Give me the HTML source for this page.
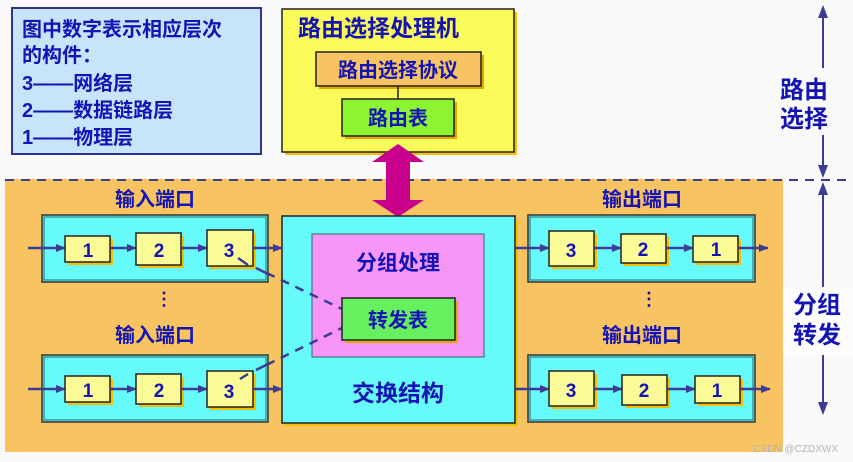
<!DOCTYPE html>
<html><head><meta charset="utf-8"><style>
html,body{margin:0;padding:0;background:#f9f9f9;}
svg{display:block;}
text{font-family:"Liberation Sans","Noto Sans CJK SC",sans-serif;font-weight:bold;fill:#1414b4;}
</style></head><body>
<svg width="853" height="462" viewBox="0 0 853 462" xmlns="http://www.w3.org/2000/svg">
<defs>
<marker id="ah" markerWidth="10" markerHeight="8" refX="9" refY="4" orient="auto" markerUnits="userSpaceOnUse">
<path d="M0,0 L10,4 L0,8 Z" fill="#3c3c96"/></marker>
</defs>
<rect x="0" y="0" width="853" height="462" fill="#f9f9f9"/>
<rect x="5" y="179" width="778" height="273" fill="#f8c462"/>
<line x1="5" y1="180" x2="853" y2="180" stroke="#3c3c96" stroke-width="2" stroke-dasharray="9,7"/>

<rect x="12" y="8" width="249" height="146" fill="#c6e4fa" stroke="#323296" stroke-width="2"/>
<text x="22" y="36" font-size="20">图中数字表示相应层次</text>
<text x="22" y="62" font-size="20">的构件：</text>
<text x="22" y="90" font-size="20">3——网络层</text>
<text x="22" y="117" font-size="20">2——数据链路层</text>
<text x="22" y="144" font-size="20">1——物理层</text>

<rect x="285" y="12" width="232" height="143" fill="#f4c000"/>
<rect x="282" y="9" width="232" height="143" fill="#fafa5a" stroke="#222" stroke-width="1.5"/>
<text x="298" y="36" font-size="23">路由选择处理机</text>
<rect x="319" y="55" width="165" height="34" fill="#e0a800"/>
<rect x="316" y="52" width="165" height="34" fill="#f8c462" stroke="#222" stroke-width="1.5"/>
<text x="398" y="77" font-size="20" text-anchor="middle">路由选择协议</text>
<line x1="398" y1="86" x2="398" y2="99" stroke="#222" stroke-width="1.5"/>
<rect x="345" y="102" width="112" height="37" fill="#e0a800"/>
<rect x="342" y="99" width="112" height="37" fill="#8cf530" stroke="#222" stroke-width="1.5"/>
<text x="398" y="125" font-size="20" text-anchor="middle">路由表</text>

<path d="M398,144 L424,162 L410,162 L410,200 L424,200 L398,217 L372,200 L386,200 L386,162 L372,162 Z" fill="#c8008c"/>

<line x1="823" y1="18" x2="823" y2="68" stroke="#3c3c96" stroke-width="2"/>
<path d="M823,5 L818,18 L828,18 Z" fill="#3c3c96"/>
<line x1="823" y1="135" x2="823" y2="166" stroke="#3c3c96" stroke-width="2"/>
<path d="M823,178 L818,165 L828,165 Z" fill="#3c3c96"/>
<text x="804" y="98" font-size="24" text-anchor="middle">路由</text>
<text x="804" y="127" font-size="24" text-anchor="middle">选择</text>
<line x1="823" y1="195" x2="823" y2="288" stroke="#3c3c96" stroke-width="2"/>
<path d="M823,182 L818,195 L828,195 Z" fill="#3c3c96"/>
<rect x="783" y="287" width="70" height="68" fill="#fcfcfc"/>
<text x="817" y="313" font-size="24" text-anchor="middle">分组</text>
<text x="817" y="343" font-size="24" text-anchor="middle">转发</text>
<line x1="823" y1="355" x2="823" y2="402" stroke="#3c3c96" stroke-width="2"/>
<path d="M823,415 L818,402 L828,402 Z" fill="#3c3c96"/>

<rect x="285" y="219" width="233" height="207" fill="#f4c000"/>
<rect x="282" y="216" width="233" height="207" fill="#66fafa" stroke="#222" stroke-width="1.5"/>
<rect x="312" y="234" width="172" height="123" fill="#f896f8" stroke="#2a6a6a" stroke-width="1"/>
<text x="398" y="270" font-size="21" text-anchor="middle">分组处理</text>

<line x1="252" y1="266" x2="342" y2="309" stroke="#3c3c96" stroke-width="2.5" stroke-dasharray="9,7"/>
<line x1="252" y1="372" x2="342" y2="328" stroke="#3c3c96" stroke-width="2.5" stroke-dasharray="9,7"/>

<rect x="345" y="301" width="113" height="42" fill="#e0a800"/>
<rect x="342" y="298" width="113" height="42" fill="#66f060" stroke="#222" stroke-width="1.5"/>
<text x="398" y="327" font-size="20" text-anchor="middle">转发表</text>
<text x="398" y="401" font-size="23" text-anchor="middle">交换结构</text>

<g>
<text x="155" y="206" font-size="20" text-anchor="middle">输入端口</text>
<rect x="42" y="215" width="226" height="67" fill="#66fafa" stroke="#333" stroke-width="1.5"/>
<rect x="44" y="217" width="222" height="63" fill="none" stroke="#2a6a6a" stroke-width="1"/>
<line x1="28" y1="248" x2="65" y2="248" stroke="#3c3c96" stroke-width="2.5" marker-end="url(#ah)"/>
<rect x="68" y="239" width="45" height="26" fill="#f4c000"/>
<rect x="65" y="236" width="45" height="26" fill="#fafa96" stroke="#222" stroke-width="1.5"/>
<text x="88" y="257" font-size="19" text-anchor="middle">1</text>
<line x1="110" y1="248" x2="136" y2="248" stroke="#3c3c96" stroke-width="2.5" marker-end="url(#ah)"/>
<rect x="139" y="236" width="45" height="32" fill="#f4c000"/>
<rect x="136" y="233" width="45" height="32" fill="#fafa96" stroke="#222" stroke-width="1.5"/>
<text x="159" y="257" font-size="19" text-anchor="middle">2</text>
<line x1="181" y1="248" x2="207" y2="248" stroke="#3c3c96" stroke-width="2.5" marker-end="url(#ah)"/>
<rect x="210" y="233" width="46" height="36" fill="#f4c000"/>
<rect x="207" y="230" width="46" height="36" fill="#fafa96" stroke="#222" stroke-width="1.5"/>
<text x="229" y="257" font-size="19" text-anchor="middle">3</text>
<line x1="253" y1="248" x2="282" y2="248" stroke="#3c3c96" stroke-width="2.5" marker-end="url(#ah)"/>
<path d="M238,258 L248,265" stroke="#3c3c96" stroke-width="2.5"/>
<line x1="256" y1="268" x2="268" y2="274" stroke="#3c3c96" stroke-width="2.5"/>
</g>
<text x="164" y="305" font-size="18" text-anchor="middle">⋮</text>
<g transform="translate(0,141)">
<text x="155" y="201" font-size="20" text-anchor="middle">输入端口</text>
<rect x="42" y="214" width="226" height="67" fill="#66fafa" stroke="#333" stroke-width="1.5"/>
<rect x="44" y="216" width="222" height="63" fill="none" stroke="#2a6a6a" stroke-width="1"/>
<line x1="28" y1="248" x2="65" y2="248" stroke="#3c3c96" stroke-width="2.5" marker-end="url(#ah)"/>
<rect x="68" y="238" width="45" height="26" fill="#f4c000"/>
<rect x="65" y="235" width="45" height="26" fill="#fafa96" stroke="#222" stroke-width="1.5"/>
<text x="88" y="256" font-size="19" text-anchor="middle">1</text>
<line x1="110" y1="248" x2="136" y2="248" stroke="#3c3c96" stroke-width="2.5" marker-end="url(#ah)"/>
<rect x="139" y="236" width="45" height="30" fill="#f4c000"/>
<rect x="136" y="233" width="45" height="30" fill="#fafa96" stroke="#222" stroke-width="1.5"/>
<text x="159" y="256" font-size="19" text-anchor="middle">2</text>
<line x1="181" y1="248" x2="207" y2="248" stroke="#3c3c96" stroke-width="2.5" marker-end="url(#ah)"/>
<rect x="210" y="233" width="46" height="36" fill="#f4c000"/>
<rect x="207" y="230" width="46" height="36" fill="#fafa96" stroke="#222" stroke-width="1.5"/>
<text x="229" y="257" font-size="19" text-anchor="middle">3</text>
<line x1="253" y1="248" x2="282" y2="248" stroke="#3c3c96" stroke-width="2.5" marker-end="url(#ah)"/>
<path d="M240,238 L248,233" stroke="#3c3c96" stroke-width="2.5"/>
<line x1="256" y1="229" x2="268" y2="223" stroke="#3c3c96" stroke-width="2.5"/>
</g>

<g>
<text x="642" y="206" font-size="20" text-anchor="middle">输出端口</text>
<rect x="528" y="215" width="227" height="67" fill="#66fafa" stroke="#333" stroke-width="1.5"/>
<rect x="530" y="217" width="223" height="63" fill="none" stroke="#2a6a6a" stroke-width="1"/>
<line x1="515" y1="248" x2="549" y2="248" stroke="#3c3c96" stroke-width="2.5" marker-end="url(#ah)"/>
<rect x="552" y="234" width="45" height="35" fill="#f4c000"/>
<rect x="549" y="231" width="45" height="35" fill="#fafa96" stroke="#222" stroke-width="1.5"/>
<text x="571" y="257" font-size="19" text-anchor="middle">3</text>
<line x1="594" y1="248" x2="621" y2="248" stroke="#3c3c96" stroke-width="2.5" marker-end="url(#ah)"/>
<rect x="624" y="237" width="45" height="29" fill="#f4c000"/>
<rect x="621" y="234" width="45" height="29" fill="#fafa96" stroke="#222" stroke-width="1.5"/>
<text x="643" y="256" font-size="19" text-anchor="middle">2</text>
<line x1="666" y1="248" x2="693" y2="248" stroke="#3c3c96" stroke-width="2.5" marker-end="url(#ah)"/>
<rect x="696" y="239" width="45" height="26" fill="#f4c000"/>
<rect x="693" y="236" width="45" height="26" fill="#fafa96" stroke="#222" stroke-width="1.5"/>
<text x="716" y="256" font-size="19" text-anchor="middle">1</text>
<line x1="738" y1="248" x2="768" y2="248" stroke="#3c3c96" stroke-width="2.5" marker-end="url(#ah)"/>
</g>
<text x="649" y="305" font-size="18" text-anchor="middle">⋮</text>
<g transform="translate(0,141)">
<text x="642" y="201" font-size="20" text-anchor="middle">输出端口</text>
<rect x="528" y="214" width="227" height="67" fill="#66fafa" stroke="#333" stroke-width="1.5"/>
<rect x="530" y="216" width="223" height="63" fill="none" stroke="#2a6a6a" stroke-width="1"/>
<line x1="515" y1="248" x2="549" y2="248" stroke="#3c3c96" stroke-width="2.5" marker-end="url(#ah)"/>
<rect x="552" y="233" width="45" height="35" fill="#f4c000"/>
<rect x="549" y="230" width="45" height="35" fill="#fafa96" stroke="#222" stroke-width="1.5"/>
<text x="571" y="256" font-size="19" text-anchor="middle">3</text>
<line x1="594" y1="248" x2="622" y2="248" stroke="#3c3c96" stroke-width="2.5" marker-end="url(#ah)"/>
<rect x="625" y="237" width="45" height="30" fill="#f4c000"/>
<rect x="622" y="234" width="45" height="30" fill="#fafa96" stroke="#222" stroke-width="1.5"/>
<text x="644" y="256" font-size="19" text-anchor="middle">2</text>
<line x1="667" y1="248" x2="695" y2="248" stroke="#3c3c96" stroke-width="2.5" marker-end="url(#ah)"/>
<rect x="698" y="238" width="45" height="27" fill="#f4c000"/>
<rect x="695" y="235" width="45" height="27" fill="#fafa96" stroke="#222" stroke-width="1.5"/>
<text x="717" y="256" font-size="19" text-anchor="middle">1</text>
<line x1="740" y1="248" x2="770" y2="248" stroke="#3c3c96" stroke-width="2.5" marker-end="url(#ah)"/>
</g>

<text x="838" y="452" font-size="10" text-anchor="end" style="font-weight:normal;fill:#b4b4b4">CSDN @CZDXWX</text>
</svg>
</body></html>
